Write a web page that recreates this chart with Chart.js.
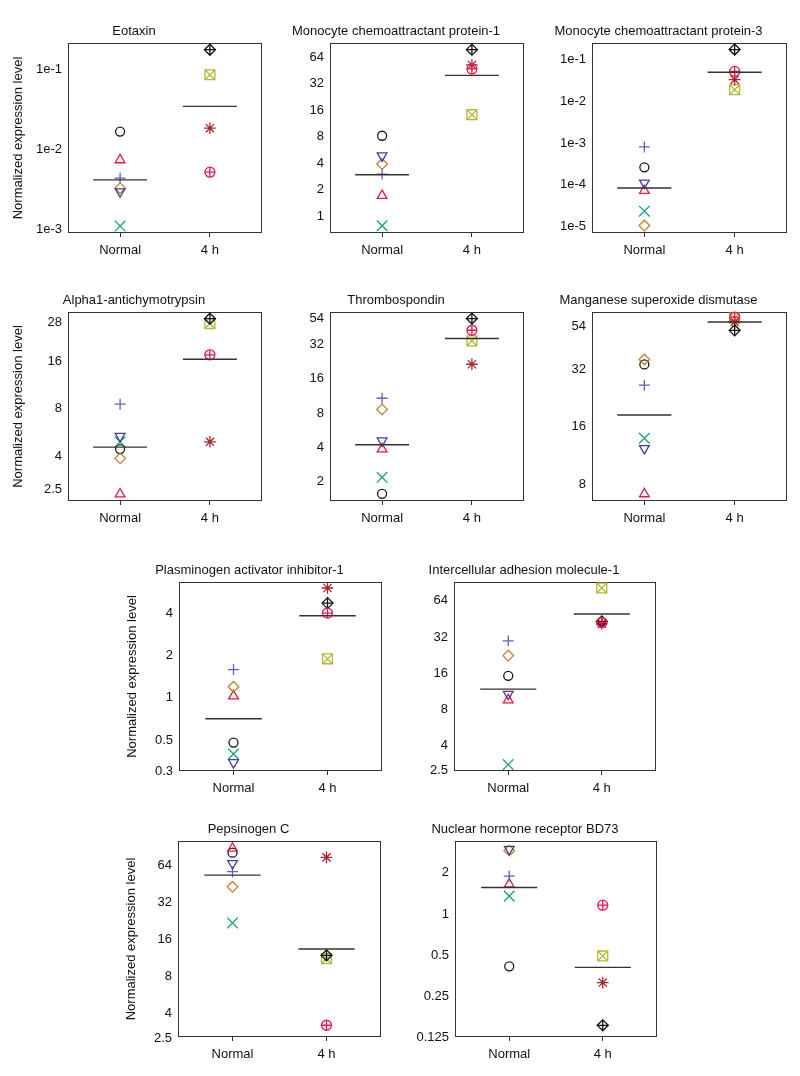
<!DOCTYPE html>
<html>
<head>
<meta charset="utf-8">
<script src="https://cdn.jsdelivr.net/npm/chart.js@4.4.1/dist/chart.umd.min.js"></script>
<style>
  html, body { margin: 0; padding: 0; background: #fff; overflow: hidden; }
  #page { position: relative; width: 800px; height: 1076px; overflow: hidden; }
  #page canvas { position: absolute; }
</style>
</head>
<body>
<div id="page"></div>
<script>
const genes = [
  'Eotaxin',
  'Monocyte chemoattractant protein-1',
  'Monocyte chemoattractant protein-3',
  'Alpha1-antichymotrypsin',
  'Thrombospondin',
  'Manganese superoxide dismutase',
  'Plasminogen activator inhibitor-1',
  'Intercellular adhesion molecule-1',
  'Pepsinogen C',
  'Nuclear hormone receptor BD73'
]
const groups = ['Normal', '4 h']

// normal samples, one value per gene (same order as genes)
const normalCircle   = [0.0168, 8.2, 2.6e-4, 4.47, 1.56, 33.9, 0.479, 15.2, 81, 0.415]
const normalTriangle = [0.0074, 1.72, 7.2e-5, 2.33, 3.86, 7.09, 1.03, 9.57, 87.9, 1.65]
const normalPlus     = [0.00437, 3.02, 8.0e-4, 8.56, 10.8, 26.4, 1.59, 29.7, 56.7, 1.89]
const normalCross    = [0.0011, 0.785, 2.3e-5, 4.97, 2.18, 13.9, 0.397, 2.78, 21.7, 1.35]
const normalDiamond  = [0.00328, 3.92, 1.04e-5, 3.91, 8.62, 36, 1.2, 22.4, 42.7, 2.9]
const normalDown     = [0.00297, 4.87, 1.1e-4, 5.39, 4.57, 12.3, 0.345, 10.7, 66.3, 2.97]

// 4 h samples
const hourBoxX        = [0.0865, 14.2, 0.019, 27.5, 34.5, 59.4, 1.9, 81.7, 11.1, 0.494]
const hourStar        = [0.0185, 51.9, 0.033, 4.97, 21.5, 56.6, 6.09, 41.2, 74.2, 0.316]
const hourDiamondPlus = [0.178, 77.4, 0.174, 29.5, 54.2, 51.2, 4.75, 43, 11.8, 0.154]
const hourCirclePlus  = [0.0052, 46.8, 0.052, 17.5, 42.8, 60, 4.03, 42.2, 3.18, 1.16]

// group means
const normalMean = [0.00417, 2.97, 8.3e-5, 4.6, 4.22, 18.4, 0.708, 11.8, 53.2, 1.56]
const hourMean   = [0.0347, 39.6, 0.0495, 16.4, 36.2, 56.6, 3.86, 49.6, 13.3, 0.408]

// y axes (log scale)
const yTicks = [
  [1e-3, 1e-2, 1e-1],
  [1, 2, 4, 8, 16, 32, 64],
  [1e-5, 1e-4, 1e-3, 1e-2, 1e-1],
  [2.5, 4, 8, 16, 28],
  [2, 4, 8, 16, 32, 54],
  [8, 16, 32, 54],
  [0.3, 0.5, 1, 2, 4],
  [2.5, 4, 8, 16, 32, 64],
  [2.5, 4, 8, 16, 32, 64],
  [0.125, 0.25, 0.5, 1, 2]
]
const yTickLabels = [
  ['1e-3', '1e-2', '1e-1'],
  ['1', '2', '4', '8', '16', '32', '64'],
  ['1e-5', '1e-4', '1e-3', '1e-2', '1e-1'],
  ['2.5', '4', '8', '16', '28'],
  ['2', '4', '8', '16', '32', '54'],
  ['8', '16', '32', '54'],
  ['0.3', '0.5', '1', '2', '4'],
  ['2.5', '4', '8', '16', '32', '64'],
  ['2.5', '4', '8', '16', '32', '64'],
  ['0.125', '0.25', '0.5', '1', '2']
]
const yMin = [9e-4, 0.65, 6.9e-6, 2.11, 1.35, 6.51, 0.302, 2.46, 2.55, 0.1265]
const yMax = [0.216, 92, 0.25, 32.5, 61.9, 63.9, 6.72, 91.6, 100.9, 3.41]

// ---- layout / style ----
// plot box of each panel on the page: left, top, right, bottom
const boxes = [
  [68, 43, 262, 233], [330, 43, 524, 233], [592, 43, 787, 233],
  [68, 312, 262, 501], [330, 312, 524, 501], [592, 312, 787, 501],
  [179, 582, 382, 771], [454, 582, 656, 771],
  [178, 841, 381, 1037], [455, 841, 657, 1037]
]
// distance from box to the y axis title (null = no title)
const yTitleGap = [50, null, null, 50, null, null, 47, null, 47, null]

const SIDE = 62, TOP = 26, BOTTOM = 36
const meanHalf = 0.3

// one entry per drawn symbol; composite R symbols are two overlaid ones
const marks = [
  { values: normalCircle, group: 0, style: 'circle', radius: 4.5, color: '#1a1a1a' },
  { values: normalTriangle, group: 0, style: 'triangle', radius: 5.6, color: '#e3193f' },
  { values: normalPlus, group: 0, style: 'cross', radius: 5.5, color: '#6b5bc4' },
  { values: normalCross, group: 0, style: 'crossRot', radius: 7.5, color: '#14a56e' },
  { values: normalDiamond, group: 0, style: 'rectRot', radius: 5.3, color: '#b8862e' },
  { values: normalDown, group: 0, style: 'triangle', rotation: 180, radius: 5.6, color: '#4a3b98' },
  { values: hourBoxX, group: 1, style: 'rect', radius: 7, color: '#b3b935' },
  { values: hourBoxX, group: 1, style: 'crossRot', radius: 7, color: '#b3b935' },
  { values: hourStar, group: 1, style: 'star', radius: 5.8, color: '#a6282f' },
  { values: hourDiamondPlus, group: 1, style: 'rectRot', radius: 5.5, color: '#111' },
  { values: hourDiamondPlus, group: 1, style: 'cross', radius: 5.5, color: '#111' },
  { values: hourCirclePlus, group: 1, style: 'circle', radius: 5, color: '#e8184e' },
  { values: hourCirclePlus, group: 1, style: 'cross', radius: 5, color: '#e8184e' }
]

Chart.defaults.font.family = "'Liberation Sans', Arial, Helvetica, sans-serif"
Chart.defaults.font.size = 13
Chart.defaults.color = '#111'

// box round the plot area
const frame = {
  id: 'frame',
  beforeDatasetsDraw(chart) {
    const a = chart.chartArea
    const ctx = chart.ctx
    ctx.save()
    ctx.strokeStyle = '#333'
    ctx.lineWidth = 1
    ctx.strokeRect(Math.round(a.left) + 0.5, Math.round(a.top) + 0.5,
      Math.round(a.right - a.left) - 1, Math.round(a.bottom - a.top) - 1)
    ctx.restore()
  }
}

const page = document.getElementById('page')

const makePanel = (i) => {
  const [L, T, R, B] = boxes[i]
  const w = SIDE + (R - L) + SIDE
  const h = TOP + (B - T) + BOTTOM
  const canvas = document.createElement('canvas')
  canvas.width = w
  canvas.height = h
  canvas.style.left = (L - SIDE) + 'px'
  canvas.style.top = (T - TOP) + 'px'
  canvas.style.width = w + 'px'
  canvas.style.height = h + 'px'
  page.appendChild(canvas)

  const meanLine = (m, g) => ({
    data: [{ x: g + 1 - meanHalf, y: m }, { x: g + 1 + meanHalf, y: m }],
    showLine: true,
    pointRadius: 0,
    borderColor: '#333',
    borderWidth: 1.4
  })

  // later samples are drawn on top, as in the original plot
  const pointSets = marks.slice().reverse().map(mk => ({
    data: [{ x: mk.group + 1, y: mk.values[i] }],
    pointStyle: mk.style,
    pointRadius: mk.radius,
    pointRotation: mk.rotation || 0,
    pointBorderColor: mk.color,
    pointBackgroundColor: 'rgba(0,0,0,0)',
    pointBorderWidth: 1.3
  }))

  const gap = yTitleGap[i]

  return new Chart(canvas, {
    type: 'scatter',
    data: {
      datasets: [meanLine(normalMean[i], 0), meanLine(hourMean[i], 1), ...pointSets]
    },
    plugins: [frame],
    options: {
      animation: false,
      responsive: false,
      devicePixelRatio: 1,
      clip: false,
      layout: { padding: { left: 0, right: SIDE, top: 0, bottom: 2 } },
      plugins: {
        legend: { display: false },
        tooltip: { enabled: false },
        title: {
          display: true,
          text: genes[i],
          font: { size: 13, weight: 'normal' },
          color: '#111',
          padding: { top: 6.5, bottom: 3.9 }
        }
      },
      scales: {
        x: {
          type: 'linear',
          min: 0.42,
          max: 2.58,
          afterBuildTicks: (scale) => { scale.ticks = [{ value: 1 }, { value: 2 }] },
          afterFit: (scale) => { scale.height = BOTTOM - 2 },
          ticks: { callback: (v) => groups[v - 1], padding: 6, maxRotation: 0, color: '#111' },
          grid: { drawOnChartArea: false, drawTicks: true, tickLength: 4, color: '#333' },
          border: { display: false }
        },
        y: {
          type: 'logarithmic',
          min: yMin[i],
          max: yMax[i],
          afterBuildTicks: (scale) => { scale.ticks = yTicks[i].map(v => ({ value: v })) },
          afterFit: (scale) => { scale.width = SIDE },
          ticks: { callback: (v, idx) => yTickLabels[i][idx], padding: 6, color: '#111' },
          grid: { display: false, drawTicks: false },
          border: { display: false },
          title: {
            display: gap !== null,
            text: 'Normalized expression level',
            font: { size: 13 },
            color: '#111',
            padding: { top: gap !== null ? SIDE - gap - 7.8 : 0, bottom: 0 }
          }
        }
      }
    }
  })
}

genes.forEach((g, i) => makePanel(i))
</script>
</body>
</html>
